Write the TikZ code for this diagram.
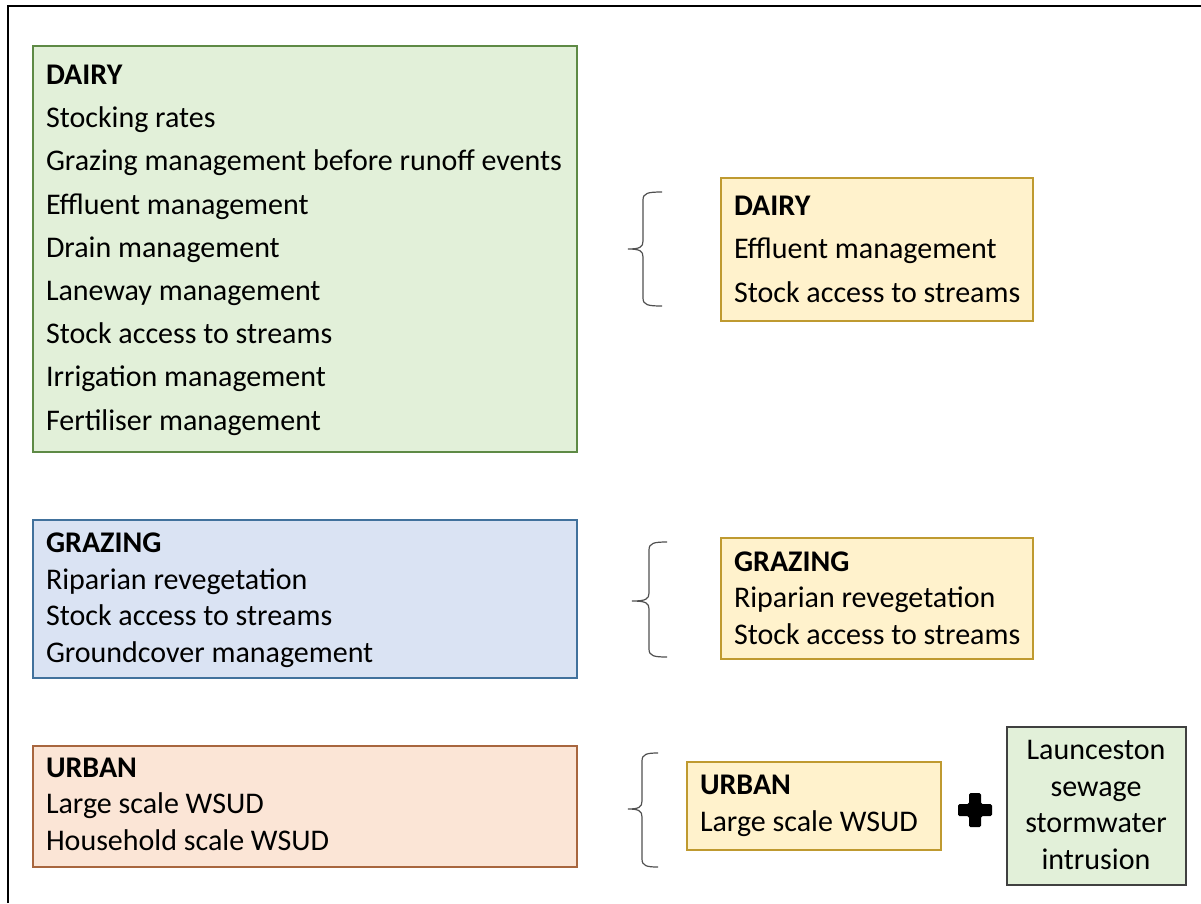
\documentclass[tikz,border=0pt]{standalone}
\usepackage{fontspec}
\setmainfont{Carlito}
\definecolor{gfill}{HTML}{E2F0D9}
\definecolor{gline}{HTML}{5E8A45}
\definecolor{bfill}{HTML}{DAE3F3}
\definecolor{bline}{HTML}{41719C}
\definecolor{ofill}{HTML}{FBE5D6}
\definecolor{oline}{HTML}{A8663E}
\definecolor{yfill}{HTML}{FFF2CC}
\definecolor{yline}{HTML}{BF9A30}
\definecolor{dline}{HTML}{404040}
\definecolor{brc}{HTML}{505050}
\begin{document}
\begin{tikzpicture}[x=1pt,y=-1pt,
  box/.style={draw, line width=1.3pt, anchor=north west, inner sep=0pt, outer sep=0pt},
  txt/.style={anchor=base west, align=left, inner sep=0pt, outer sep=0pt},
  wide/.style={font=\fontsize{30}{43.2}\selectfont},
  tight/.style={font=\fontsize{30}{36.4}\selectfont},
  brace/.style={draw=brc, line width=1.2pt}]
\useasboundingbox (0,0) rectangle (1201,903);
\draw[line width=2.5pt] (8,903) -- (8,6) -- (1201,6);
% left boxes
\node[box, fill=gfill, draw=gline, minimum width=544pt, minimum height=406pt] (dairyL) at (33,46) {};
\node[txt, wide] (dairyLt) at (46,430) {\textbf{DAIRY}\\Stocking rates\\Grazing management before runoff events\\Effluent management\\Drain management\\Laneway management\\Stock access to streams\\Irrigation management\\Fertiliser management};
\node[box, fill=bfill, draw=bline, minimum width=544pt, minimum height=158pt] (grazL) at (33,520) {};
\node[txt, tight] (grazLt) at (46,662) {\textbf{GRAZING}\\Riparian revegetation\\Stock access to streams\\Groundcover management};
\node[box, fill=ofill, draw=oline, minimum width=544pt, minimum height=121pt] (urbL) at (33,746) {};
\node[txt, tight] (urbLt) at (46,850) {\textbf{URBAN}\\Large scale WSUD\\Household scale WSUD};
% right boxes
\node[box, fill=yfill, draw=yline, minimum width=312pt, minimum height=143pt] (dairyR) at (721,178) {};
\node[txt, wide] (dairyRt) at (734,302) {\textbf{DAIRY}\\Effluent management\\Stock access to streams};
\node[box, fill=yfill, draw=yline, minimum width=312pt, minimum height=121pt] (grazR) at (721,538) {};
\node[txt, tight] (grazRt) at (734,644) {\textbf{GRAZING}\\Riparian revegetation\\Stock access to streams};
\node[box, fill=yfill, draw=yline, minimum width=254pt, minimum height=88pt] (urbR) at (687,762) {};
\node[txt, tight] (urbRt) at (700,831) {\textbf{URBAN}\\Large scale WSUD};
\node[box, fill=gfill, draw=dline, minimum width=179pt, minimum height=158pt] (laun) at (1007,727) {};
\node[anchor=base, align=center, inner sep=0pt, tight] (launt) at (1096,869) {Launceston\\sewage\\stormwater\\intrusion};
% braces
\draw[brace] (662,192) .. controls (648,192) and (643,193) .. (643,200) -- (643,241)
  .. controls (643,247) and (640,249) .. (628,249)
  .. controls (640,249) and (643,251) .. (643,257) -- (643,298)
  .. controls (643,305) and (648,306) .. (662,306);
\draw[brace] (667,542) .. controls (654,542) and (649,543) .. (649,550) -- (649,593)
  .. controls (649,599) and (646,601) .. (632,601)
  .. controls (646,601) and (649,603) .. (649,609) -- (649,649)
  .. controls (649,656) and (654,657) .. (667,657);
\draw[brace] (658,753) .. controls (647,753) and (642,754) .. (642,761) -- (642,801)
  .. controls (642,807) and (639,809) .. (628,809)
  .. controls (639,809) and (642,811) .. (642,817) -- (642,859)
  .. controls (642,866) and (647,867) .. (658,867);
% plus sign
\fill[rounded corners=1.5pt] (969,793) -- (981,793) -- (981,804) -- (992,804) -- (992,816) -- (981,816) -- (981,827) -- (969,827) -- (969,816) -- (958,816) -- (958,804) -- (969,804) -- cycle;
\end{tikzpicture}
\end{document}
